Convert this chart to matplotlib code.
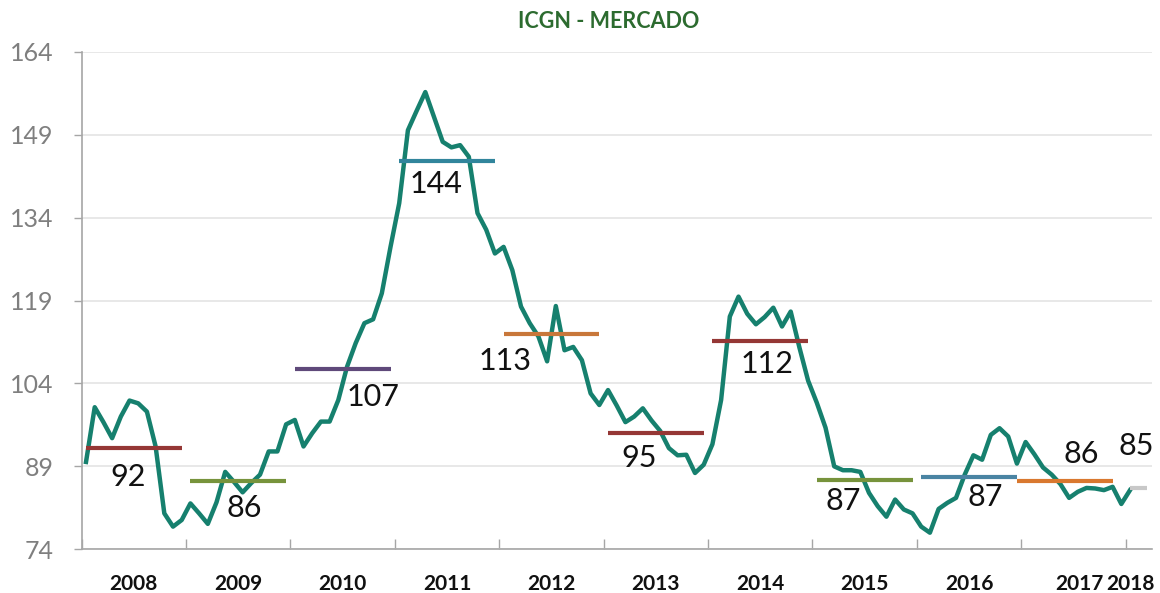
import numpy as np
import matplotlib
matplotlib.use('Agg')
from matplotlib import pyplot as plt

plt.rcParams['font.family'] = ['Lato', 'DejaVu Sans']

TITLE = 'ICGN - MERCADO'

years = ['2008', '2009', '2010', '2011', '2012', '2013', '2014', '2015', '2016', '2017', '2018']
months_per_year = [12, 12, 12, 12, 12, 12, 12, 12, 12, 12, 3]

# monthly index, jan/2008 .. jan/2018
icgn = [
    89.8, 99.7, 97.0, 94.1, 98.0, 100.9, 100.4, 98.9, 92.6, 80.5, 78.1, 79.3,      # 2008
    82.3, 80.5, 78.6, 82.5, 88.0, 86.2, 84.3, 86.0, 87.5, 91.7, 91.7, 96.6,        # 2009
    97.4, 92.6, 95.0, 97.1, 97.1, 101.0, 107.0, 111.3, 114.9, 115.6, 120.3, 128.7, # 2010
    136.6, 149.8, 153.3, 156.7, 152.2, 147.7, 146.7, 147.1, 145.0, 134.8, 131.8, 127.5,  # 2011
    128.7, 124.5, 117.9, 114.9, 112.5, 108.0, 118.0, 110.0, 110.6, 108.2, 102.2, 100.1,  # 2012
    102.8, 100.0, 97.0, 98.0, 99.5, 97.3, 95.4, 92.3, 91.0, 91.1, 87.8, 89.3,      # 2013
    93.0, 101.0, 116.1, 119.7, 116.6, 114.7, 116.0, 117.7, 114.3, 117.0, 110.5, 104.5,  # 2014
    100.5, 96.0, 89.0, 88.3, 88.3, 88.0, 84.2, 81.8, 79.9, 83.0, 81.2, 80.5,       # 2015
    78.1, 77.0, 81.3, 82.4, 83.3, 87.5, 91.0, 90.2, 94.7, 95.9, 94.4, 89.5,        # 2016
    93.4, 91.2, 88.8, 87.5, 85.8, 83.3, 84.4, 85.1, 85.0, 84.7, 85.3, 82.2,        # 2017
    84.7,                                                                          # 2018
]

# yearly averages and the months each one covers
year_means = [92.4, 86.4, 106.6, 144.2, 112.9, 95.0, 111.7, 86.6, 87.1, 86.3, 85.0]
mean_start = [0, 12, 24, 36, 48, 60, 72, 84, 96, 107, 120]
mean_end = [11, 23, 35, 47, 59, 71, 83, 95, 107, 118, 122]
mean_colors = ['#953735', '#77933C', '#5F497A', '#31859C', '#C8773A', '#953735',
               '#953735', '#77933C', '#4A84A3', '#D9782F', '#C8C8C8']

# where the average labels sit (x in months, y in index units)
label_x = [4.85, 18.2, 33.0, 40.2, 48.2, 63.6, 78.3, 87.0, 103.4, 114.4, 120.7]
label_y = [87.1, 81.5, 101.6, 140.1, 108.1, 90.6, 107.6, 82.8, 83.4, 91.2, 92.7]

yticks = [74, 89, 104, 119, 134, 149, 164]

fig = plt.figure(figsize=(11.6, 5.93), dpi=100)
ax = fig.add_axes([0.0704, 0.0737, 0.9225, 0.8391])

x = np.arange(len(icgn))
ax.plot(x, icgn, color='#16806E', lw=3.2, solid_joinstyle='round', zorder=3)

for s, e, m, c in zip(mean_start, mean_end, year_means, mean_colors):
    ax.plot([s, e], [m, m], color=c, lw=3.0, solid_capstyle='butt', zorder=4)

for lx, ly, m in zip(label_x, label_y, year_means):
    ax.text(lx, ly, '{:.0f}'.format(m), fontsize=22, color='#111111',
            ha='center', va='center', zorder=5)

bounds = np.cumsum([0] + months_per_year) - 0.5
centers = (bounds[:-1] + bounds[1:]) / 2
centers[-2] += 0.7
centers[-1] -= 1.0

ax.set_xlim(bounds[0], bounds[-1])
ax.set_ylim(74, 164)

ax.set_xticks(bounds[:-1])
ax.set_xticklabels([])
ax.set_xticks(centers, minor=True)
ax.set_xticklabels(years, minor=True, fontsize=15, fontweight='bold', color='#111111')
ax.tick_params(axis='x', which='major', direction='in', length=7, width=1, color='#A6A6A6')
ax.tick_params(axis='x', which='minor', length=0, pad=18)

ax.set_yticks(yticks)
ax.set_yticklabels([str(v) for v in yticks], fontsize=18, color='#7F7F7F')
ax.tick_params(axis='y', direction='out', length=6, width=1, color='#A6A6A6', pad=14)

ax.grid(axis='y', color='#E4E4E4', lw=1.2, zorder=0)
for side in ['top', 'right']:
    ax.spines[side].set_visible(False)
for side in ['left', 'bottom']:
    ax.spines[side].set_color('#A6A6A6')
    ax.spines[side].set_linewidth(1.2)

fig.text(609 / 1160, 1 - 22 / 593, TITLE, fontsize=15.5, fontweight='bold',
         color='#2C6B2F', ha='center', va='center')

fig.savefig('out.png', dpi=100)
